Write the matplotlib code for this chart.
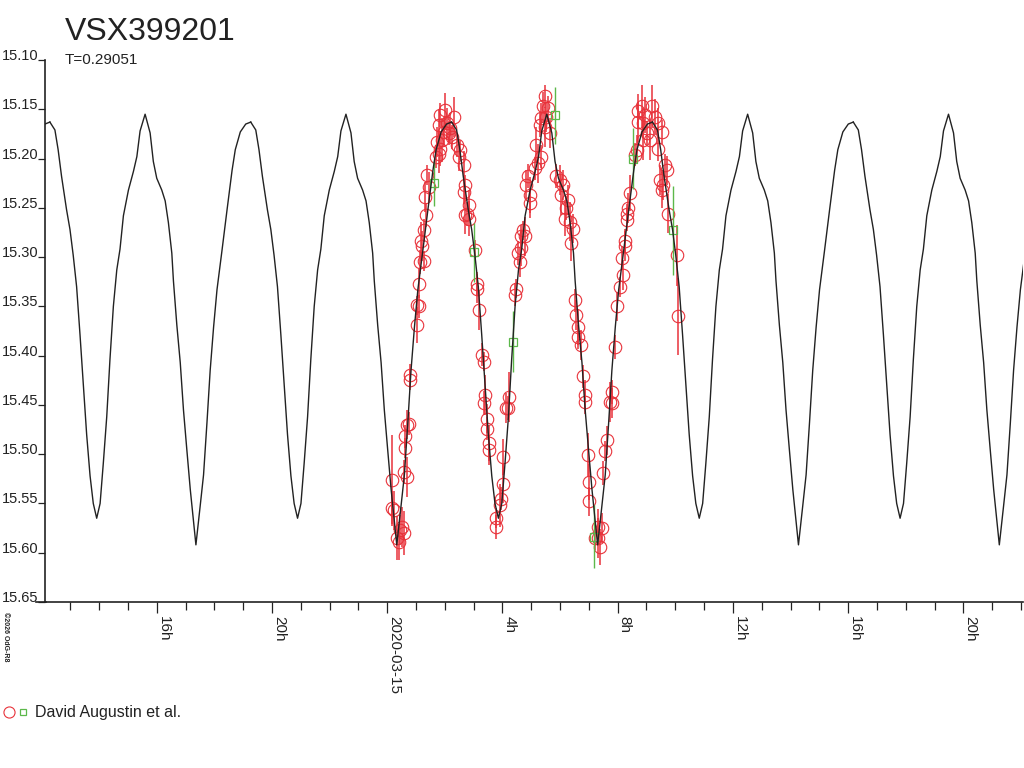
import numpy as np
import matplotlib
matplotlib.use("Agg")
import matplotlib.pyplot as plt
from matplotlib.lines import Line2D
from matplotlib.legend_handler import HandlerTuple

plt.rcParams['font.family'] = ['Liberation Sans', 'DejaVu Sans']

# ================= data =================

star_name = "VSX399201"
period_days = 0.29051
epoch_hours = -11.71          # time of the broad maximum, hours from 2020-03-15 00:00 UT

# light curve model, one period (phase from the broad maximum)
profile_phase = [0.000, 0.025, 0.041, 0.058, 0.083, 0.100, 0.116, 0.133, 0.150, 0.166,
                 0.183, 0.200, 0.216, 0.233, 0.250, 0.266, 0.283, 0.299, 0.316, 0.333,
                 0.349, 0.366, 0.391, 0.416, 0.433, 0.449, 0.474, 0.499, 0.515, 0.532,
                 0.557, 0.574, 0.590, 0.607, 0.615, 0.632, 0.649, 0.665, 0.682, 0.699,
                 0.727, 0.748, 0.765, 0.782, 0.798, 0.815, 0.832, 0.857, 0.882, 0.907,
                 0.923, 0.948, 0.975, 1.000]
profile_mag = [15.163, 15.171, 15.191, 15.218, 15.252, 15.272, 15.298, 15.330, 15.379, 15.428,
               15.480, 15.522, 15.550, 15.565, 15.550, 15.509, 15.462, 15.404, 15.350, 15.313,
               15.292, 15.258, 15.232, 15.213, 15.198, 15.172, 15.155, 15.174, 15.203, 15.220,
               15.232, 15.243, 15.265, 15.296, 15.324, 15.369, 15.407, 15.455, 15.496, 15.536,
               15.592, 15.553, 15.521, 15.468, 15.415, 15.371, 15.333, 15.293, 15.252, 15.212,
               15.191, 15.173, 15.165, 15.163]

# observations: hours from 2020-03-15 00:00 UT, magnitude, error
red_hours = [0.16, 0.16, 0.22, 0.34, 0.40, 0.45, 0.51, 0.57, 0.57, 0.63,
             0.63, 0.68, 0.68, 0.74, 0.80, 0.80, 1.03, 1.03, 1.09, 1.09,
             1.15, 1.21, 1.18, 1.26, 1.26, 1.32, 1.35, 1.38, 1.44, 1.69,
             1.73, 1.79, 1.79, 1.84, 1.84, 1.90, 1.96, 2.01, 2.07, 2.13,
             2.19, 2.25, 2.31, 2.42, 2.48, 2.54, 2.65, 2.65, 2.71, 2.71,
             2.77, 2.83, 2.83, 3.06, 3.12, 3.12, 3.17, 3.29, 3.35, 3.35,
             3.40, 3.46, 3.46, 3.52, 3.52, 3.79, 3.79, 3.90, 3.96, 4.02,
             4.02, 4.13, 4.19, 4.22, 4.42, 4.48, 4.54, 4.60, 4.65, 4.65,
             4.71, 4.77, 4.83, 4.89, 4.94, 4.94, 5.12, 5.17, 5.23, 5.29,
             5.35, 5.35, 5.41, 5.47, 5.49, 5.52, 5.58, 5.64, 5.87, 5.99,
             6.04, 6.10, 6.16, 6.22, 6.27, 6.33, 6.39, 6.45, 6.53, 6.56,
             6.62, 6.62, 6.74, 6.80, 6.85, 6.85, 6.97, 7.02, 7.02, 7.20,
             7.33, 7.33, 7.39, 7.44, 7.50, 7.56, 7.62, 7.73, 7.79, 7.79,
             7.91, 7.97, 8.08, 8.14, 8.19, 8.25, 8.25, 8.31, 8.31, 8.37,
             8.43, 8.60, 8.66, 8.72, 8.72, 8.83, 8.89, 8.89, 8.95, 9.01,
             9.12, 9.18, 9.30, 9.41, 9.41, 9.47, 9.53, 9.53, 9.58, 9.64,
             9.70, 9.76, 10.05, 10.10]
red_mags = [15.526, 15.555, 15.557, 15.585, 15.589, 15.577, 15.574, 15.580, 15.518, 15.482,
            15.494, 15.523, 15.470, 15.469, 15.420, 15.425, 15.369, 15.349, 15.350, 15.327,
            15.305, 15.289, 15.284, 15.304, 15.273, 15.239, 15.257, 15.217, 15.229, 15.198,
            15.183, 15.195, 15.166, 15.190, 15.156, 15.181, 15.173, 15.151, 15.164, 15.174,
            15.169, 15.178, 15.158, 15.186, 15.198, 15.191, 15.207, 15.234, 15.227, 15.257,
            15.256, 15.247, 15.261, 15.293, 15.327, 15.332, 15.354, 15.399, 15.406, 15.448,
            15.440, 15.464, 15.474, 15.489, 15.496, 15.565, 15.574, 15.552, 15.545, 15.530,
            15.503, 15.453, 15.453, 15.442, 15.338, 15.332, 15.296, 15.305, 15.291, 15.279,
            15.273, 15.279, 15.227, 15.218, 15.237, 15.245, 15.210, 15.186, 15.205, 15.166,
            15.159, 15.198, 15.147, 15.168, 15.137, 15.158, 15.149, 15.174, 15.218, 15.222,
            15.237, 15.227, 15.261, 15.250, 15.242, 15.264, 15.286, 15.271, 15.344, 15.359,
            15.371, 15.381, 15.389, 15.421, 15.440, 15.447, 15.501, 15.528, 15.548, 15.585,
            15.574, 15.585, 15.594, 15.575, 15.519, 15.497, 15.486, 15.447, 15.437, 15.448,
            15.391, 15.350, 15.330, 15.301, 15.318, 15.284, 15.289, 15.256, 15.262, 15.250,
            15.235, 15.196, 15.191, 15.163, 15.152, 15.147, 15.164, 15.181, 15.156, 15.174,
            15.181, 15.147, 15.158, 15.164, 15.190, 15.222, 15.173, 15.232, 15.227, 15.207,
            15.212, 15.256, 15.298, 15.360]
red_errs = [0.045, 0.018, 0.020, 0.022, 0.018, 0.015, 0.020, 0.022, 0.012, 0.012,
            0.010, 0.020, 0.015, 0.012, 0.012, 0.010, 0.018, 0.010, 0.012, 0.015,
            0.012, 0.015, 0.020, 0.010, 0.012, 0.015, 0.012, 0.010, 0.015, 0.012,
            0.015, 0.020, 0.015, 0.018, 0.012, 0.022, 0.015, 0.018, 0.015, 0.012,
            0.015, 0.012, 0.020, 0.012, 0.015, 0.010, 0.015, 0.012, 0.010, 0.020,
            0.012, 0.015, 0.018, 0.010, 0.012, 0.015, 0.020, 0.012, 0.010, 0.012,
            0.020, 0.015, 0.012, 0.018, 0.015, 0.010, 0.012, 0.022, 0.012, 0.020,
            0.018, 0.015, 0.012, 0.025, 0.012, 0.010, 0.012, 0.015, 0.018, 0.012,
            0.010, 0.020, 0.015, 0.012, 0.018, 0.015, 0.012, 0.018, 0.020, 0.012,
            0.015, 0.012, 0.015, 0.020, 0.012, 0.015, 0.012, 0.015, 0.012, 0.015,
            0.020, 0.015, 0.018, 0.012, 0.015, 0.020, 0.018, 0.015, 0.012, 0.015,
            0.018, 0.012, 0.015, 0.012, 0.015, 0.012, 0.022, 0.018, 0.015, 0.012,
            0.018, 0.020, 0.018, 0.015, 0.012, 0.010, 0.015, 0.020, 0.012, 0.015,
            0.012, 0.015, 0.010, 0.012, 0.015, 0.012, 0.015, 0.010, 0.012, 0.015,
            0.018, 0.012, 0.015, 0.020, 0.018, 0.022, 0.015, 0.020, 0.018, 0.012,
            0.020, 0.022, 0.018, 0.015, 0.012, 0.015, 0.012, 0.018, 0.015, 0.012,
            0.015, 0.020, 0.031, 0.039]

green_hours = [1.63, 3.00, 4.37, 5.81, 7.18, 8.54, 9.91]
green_mags = [15.225, 15.295, 15.386, 15.156, 15.584, 15.200, 15.273]
green_errs = [0.023, 0.030, 0.031, 0.029, 0.032, 0.031, 0.045]

observer = "David Augustin et al."

x_major = [-8, -4, 0, 4, 8, 12, 16, 20]
x_labels = ["16h", "20h", "2020-03-15", "4h", "8h", "12h", "16h", "20h"]
y_ticks = [15.10, 15.15, 15.20, 15.25, 15.30, 15.35, 15.40, 15.45, 15.50, 15.55, 15.60, 15.65]

# ================= plot =================

red = '#e8323a'
green = '#5cb84a'

fig = plt.figure(figsize=(10.24, 7.68), dpi=100)
ax = fig.add_axes([45 / 1024, 1 - 602 / 768, 978 / 1024, 542 / 768])

ax.errorbar(red_hours, red_mags, yerr=red_errs, fmt='o', ms=9, mfc='none', mec=red,
            mew=0.8, ecolor=red, elinewidth=1.1, capsize=0, zorder=2)
ax.errorbar(green_hours, green_mags, yerr=green_errs, fmt='s', ms=5.5, mfc='none', mec=green,
            mew=0.9, ecolor=green, elinewidth=1.0, capsize=0, zorder=3)

# model curve repeated over the time range
period_h = period_days * 24
ph = np.array(profile_phase)
for k in range(-1, 6):
    ax.plot(epoch_hours + (ph + k) * period_h, profile_mag, color='#222222', lw=1.0, zorder=4)

ax.set_xlim(-11.88, 22.07)
ax.set_ylim(15.65, 15.10)

ax.spines['top'].set_visible(False)
ax.spines['right'].set_visible(False)
for s in ('left', 'bottom'):
    ax.spines[s].set_linewidth(1.2)
    ax.spines[s].set_color('#222222')

ax.set_xticks(x_major)
ax.set_xticks(np.arange(-11, 23), minor=True)
ax.set_xticklabels(x_labels, rotation=-90, ha='left', va='top', fontsize=11, color='#222222')
ax.tick_params(axis='x', which='major', length=8, width=0.9, pad=2, color='#222222')
ax.tick_params(axis='x', which='minor', length=6, width=0.9, color='#222222')

ax.set_yticks(y_ticks)
ax.set_yticklabels(["%.2f" % v for v in y_ticks], fontsize=10.5, color='#222222')
ax.tick_params(axis='y', length=5, width=0.9, pad=0, color='#222222')
for lab in ax.get_yticklabels():
    lab.set_verticalalignment('baseline')

# bottom axis line runs a little past the y axis
fig.add_artist(Line2D([36 / 1024, 46 / 1024], [1 - 602 / 768] * 2, color='#222222', lw=1.2))

# title and period
fig.text(65 / 1024, 1 - 40 / 768, star_name, fontsize=23, color='#222222', va='baseline')
fig.text(65 / 1024, 1 - 64 / 768, "T=%.5f" % period_days, fontsize=11, color='#222222', va='baseline')

# small copyright line on the left
fig.text(2 / 1024, 1 - 612 / 768, "\u00a92026 OdG-R8", fontsize=5, rotation=-90,
         ha='left', va='top', color='#222222', fontweight='bold')

# legend
h_circle = Line2D([], [], marker='o', ls='none', ms=8, mfc='none', mec=red, mew=0.8)
h_square = Line2D([], [], marker='s', ls='none', ms=5, mfc='none', mec=green, mew=0.9)
fig.legend([(h_circle, h_square)], [observer], handler_map={tuple: HandlerTuple(ndivide=None, pad=0.1)},
           loc='center left', bbox_to_anchor=(0.0, 1 - 713 / 768), frameon=False,
           fontsize=11.5, handlelength=1.6, handletextpad=0.4, borderaxespad=0, borderpad=0.2,
           labelcolor='#222222')

fig.savefig("out.png", dpi=100)
